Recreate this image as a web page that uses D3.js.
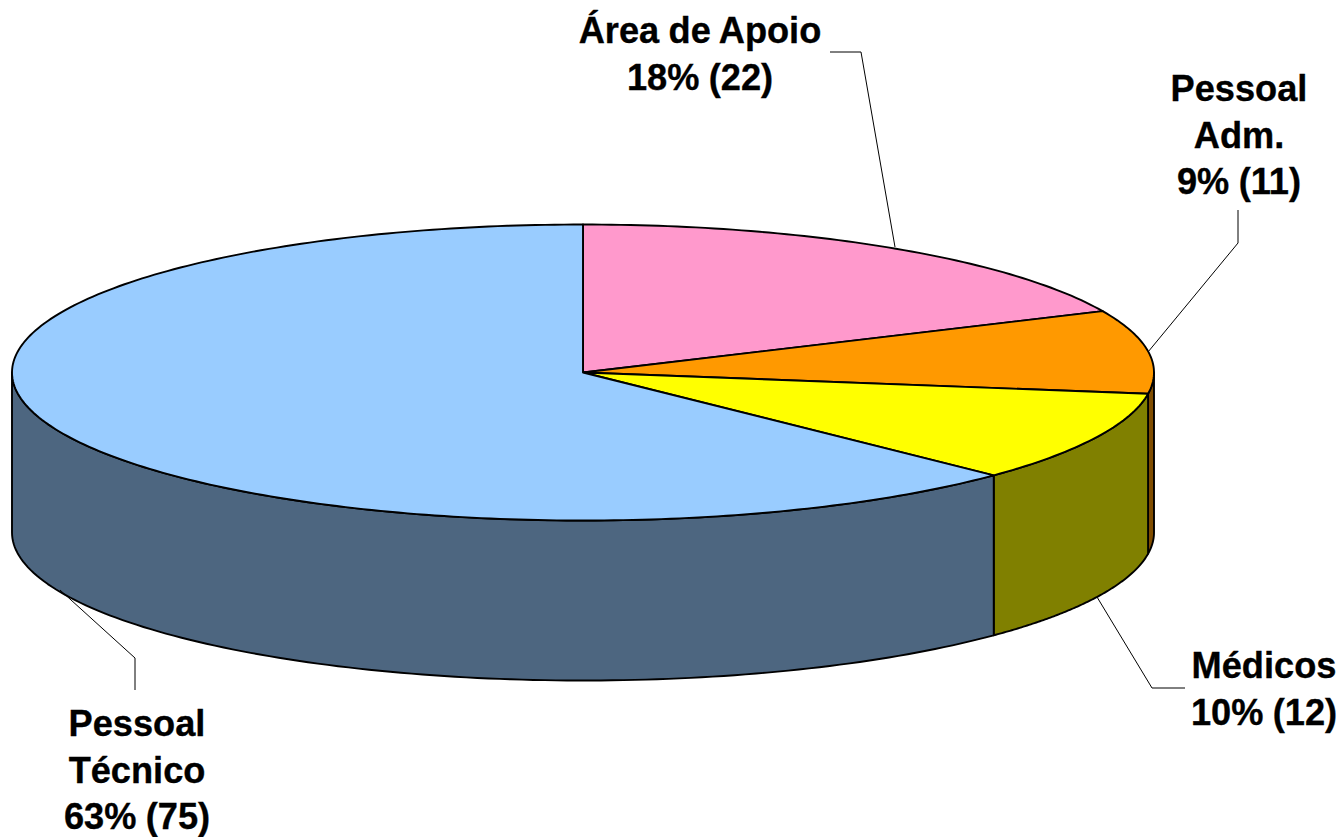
<!DOCTYPE html>
<html><head><meta charset="utf-8">
<script src="https://cdn.jsdelivr.net/npm/d3@7"></script>
<style>html,body{margin:0;background:#fff}svg{display:block}text{font-family:"Liberation Sans",Arial,sans-serif;font-weight:bold;font-size:36.2px;fill:#000;stroke:#000;stroke-width:.35px;text-anchor:middle;word-spacing:-.7px}</style>
</head><body><svg id="c" width="1341" height="837"></svg>
<script>
const categories=["Área de Apoio","Pessoal Adm.","Médicos","Pessoal Técnico"];
const values=[22,11,12,75];
const topColors=["#FF99CC","#FF9900","#FFFF00","#99CCFF"];
const sideColors=["#804D66","#804D00","#808000","#4D6680"];
const labelLines=[["Área de Apoio","18% (22)"],["Pessoal","Adm.","9% (11)"],["Médicos","10% (12)"],["Pessoal","Técnico","63% (75)"]];
const labelPos=[[700,43],[1239,101],[1264,678],[137,736]];
const leaders=[[[895,247],[861,52],[830,52]],[[1148,352],[1238,243],[1238,210]],[[1097,597],[1152,688],[1185,688]],[[60,590],[135,658],[135,690]]];
const cx=583,cy=372.5,rx=571,ry=148,depth=160;
const svg=d3.select("#c");
const x=d3.scaleLinear().domain([-1,1]).range([cx-rx,cx+rx]);
const y=d3.scaleLinear().domain([-1,1]).range([cy-ry,cy+ry]);
// small correction for the source chart's 3D projection of the slice angles
const project=d3.scaleLinear().domain([0,135,360].map(d=>d*Math.PI/180)).range([0,134,360].map(d=>d*Math.PI/180));
const arcs=d3.pie().sort(null)(values).map(d=>({...d,startAngle:project(d.startAngle),endAngle:project(d.endAngle)}));
const px=a=>x(Math.sin(a)),py=a=>y(-Math.cos(a));
const sw=1.9;
// side walls
arcs.forEach((d,i)=>{
  const s=Math.max(d.startAngle,Math.PI/2),e=Math.min(d.endAngle,Math.PI*1.5);
  if(e<=s)return;
  const as=d3.range(0,121).map(k=>s+(e-s)*k/120);
  const top=as.map(a=>[px(a),py(a)]);
  const bot=as.slice().reverse().map(a=>[px(a),py(a)+depth]);
  svg.append("path").attr("d",d3.line()(top.concat(bot))+"Z").attr("fill",sideColors[i]).attr("stroke","#000").attr("stroke-width",sw).attr("stroke-linejoin","round");
});
// top faces
arcs.forEach((d,i)=>{
  const n=Math.max(4,Math.round((d.endAngle-d.startAngle)*60));
  const pts=[[x(0),y(0)]].concat(d3.range(0,n+1).map(k=>{const a=d.startAngle+(d.endAngle-d.startAngle)*k/n;return [px(a),py(a)];}));
  svg.append("path").attr("d",d3.line()(pts)+"Z").attr("fill",topColors[i]).attr("stroke","#000").attr("stroke-width",sw).attr("stroke-linejoin","round");
});
leaders.forEach(l=>svg.append("path").attr("d",d3.line()(l)).attr("fill","none").attr("stroke","#000").attr("stroke-width",1));
labelLines.forEach((lines,i)=>{
  lines.forEach((t,j)=>svg.append("text").attr("x",labelPos[i][0]).attr("y",labelPos[i][1]+j*46.5).text(t));
});
</script></body></html>
